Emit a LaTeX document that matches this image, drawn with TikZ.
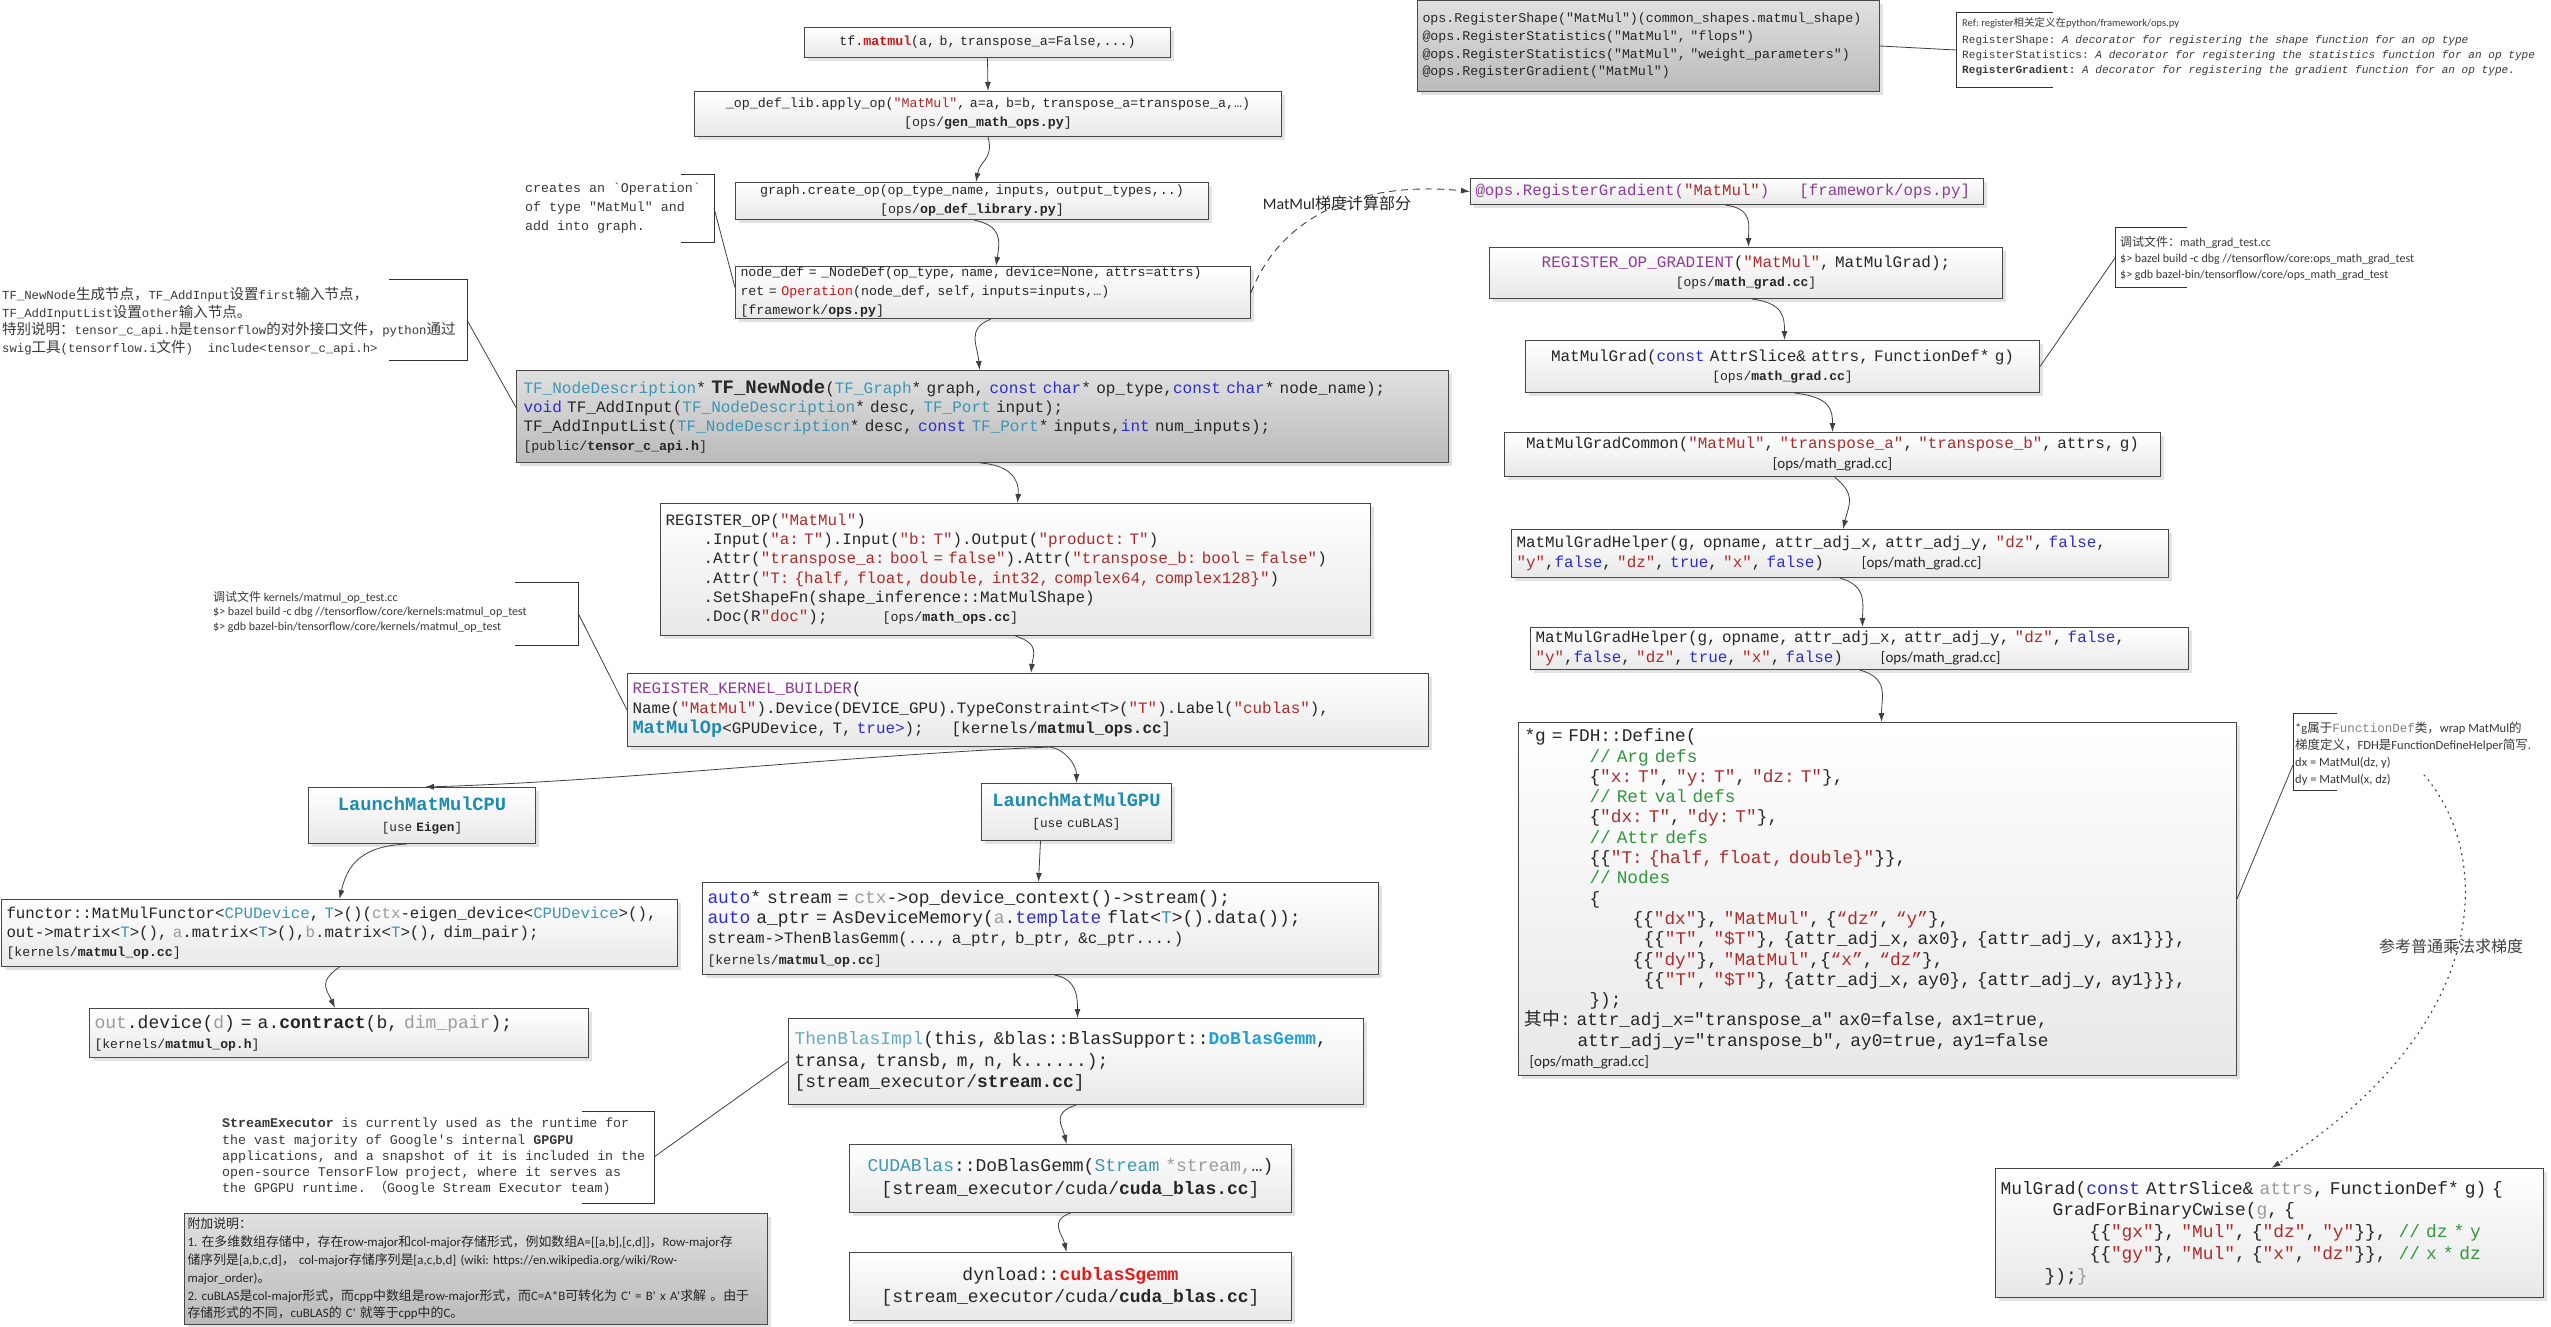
\documentclass[tikz,border=0pt]{standalone}
\usepackage{fontspec}
\setmonofont{Liberation Mono}
\newfontfamily\cbfont{Carlito}
\newfontfamily\zhfont{Noto Sans CJK SC}
\usetikzlibrary{arrows.meta,shadows}
\definecolor{strred}{RGB}{172,44,44}
\definecolor{kwblue}{RGB}{45,45,205}
\definecolor{tyteal}{RGB}{60,150,180}
\definecolor{tealb}{RGB}{30,140,175}
\definecolor{purp}{RGB}{140,60,150}
\definecolor{cmgreen}{RGB}{50,150,60}
\definecolor{grayt}{RGB}{155,155,155}
\definecolor{cyanb}{RGB}{30,160,215}
\definecolor{redc}{RGB}{225,30,30}
\definecolor{redb}{RGB}{200,25,25}
\newcommand\fsz[2]{\fontsize{#1}{#2}\selectfont}
\newcommand\fixsp{\fontdimen2\font=0.6\fontdimen6\font \fontdimen3\font=0pt \fontdimen4\font=0pt \fontdimen7\font=0pt\relax}
\newcommand\mfs[2]{\fontsize{#1}{#2}\selectfont\fixsp}
\newcommand\zhs[1]{{\zhfont #1}}
\newcommand\zhb[1]{{\zhfont\fontsize{14.5}{17.7}\selectfont #1}}
\newcommand\cStr[1]{\textcolor{strred}{#1}}
\newcommand\cKw[1]{\textcolor{kwblue}{#1}}
\newcommand\cTy[1]{\textcolor{tyteal}{#1}}
\newcommand\cPu[1]{\textcolor{purp}{#1}}
\newcommand\cCm[1]{\textcolor{cmgreen}{#1}}
\newcommand\cGr[1]{\textcolor{grayt}{#1}}
\tikzset{
 box/.style={draw=black!72, line width=1pt, top color=white, bottom color=black!9,
   drop shadow={shadow xshift=3pt, shadow yshift=-3pt, fill=black!22},
   anchor=north west, inner xsep=5pt, inner ysep=0pt, font=\ttfamily, text=black!85},
 gbox/.style={box, top color=black!12, bottom color=black!27},
 note/.style={anchor=north west, inner sep=0pt, align=left, text=black!78},
 arr/.style={draw=black!75, line width=0.8pt, -{Latex[length=9pt,width=6pt]}},
 conn/.style={draw=black!75, line width=0.8pt},
 brk/.style={draw=black!80, line width=0.9pt},
 dashline/.style={dash pattern=on 7pt off 5pt, line width=0.9pt},
 dotline/.style={dash pattern=on 1.3pt off 5pt, line cap=round, line width=1.2pt},
}
\begin{document}
\frenchspacing
\begin{tikzpicture}[x=1pt,y=-1pt]
\fill[white] (0,0) rectangle (2551,1326);
\useasboundingbox (0,0) rectangle (2551,1326);

% ---------------- top column ----------------
\node[box, text width=356pt, minimum height=30pt, align=center, font=\ttfamily\mfs{13.3}{16}] (tfmatmul) at (804,27)
 {tf.\textcolor{redb}{\bfseries matmul}(a, b, transpose\_a=False,...)};
\node[box, text width=577pt, minimum height=45pt, align=center, font=\ttfamily\mfs{13.3}{19}] (applyop) at (694,91)
 {\_op\_def\_lib.apply\_op(\cStr{"MatMul"}, a=a, b=b, transpose\_a=transpose\_a,…)\\ {[}ops/\textbf{gen\_math\_ops.py}]};
\node[box, text width=463pt, minimum height=37pt, align=center, font=\ttfamily\mfs{13.3}{19}] (createop) at (735,182)
 {graph.create\_op(op\_type\_name, inputs, output\_types,..)\\ {[}ops/\textbf{op\_def\_library.py}]};
\node[box, text width=505pt, minimum height=52pt, align=left, font=\ttfamily\mfs{13.3}{19}] (nodedef) at (735,266)
 {node\_def = \_NodeDef(op\_type, name, device=None, attrs=attrs)\\ ret = \textcolor{redb}{Operation}(node\_def, self, inputs=inputs,…)\\ {[}framework/\textbf{ops.py}]};

\node[note, font=\ttfamily\mfs{13.3}{19}] (opnote) at (525,183) {creates an `Operation`\\ of type "MatMul" and\\ add into graph.};
\draw[brk] (681,174) -- (714,174) -- (714,242) -- (681,242);
\coordinate (opb) at (714,208);

\node[gbox, text width=452pt, minimum height=91pt, align=left, font=\ttfamily\mfs{13.3}{17.7}] (regshape) at (1417,0)
 {ops.RegisterShape("MatMul")(common\_shapes.matmul\_shape)\\ @ops.RegisterStatistics("MatMul", "flops")\\ @ops.RegisterStatistics("MatMul", "weight\_parameters")\\ @ops.RegisterGradient("MatMul")};
\node[note, font=\ttfamily\mfs{11.1}{15}] (refnote) at (1962,17)
 {{\cbfont\fsz{10.5}{15}Ref: register\zhs{相关定义在}python/framework/ops.py}\\[2pt]
  RegisterShape: \textit{\fixsp A decorator for registering the shape function for an op type}\\
  RegisterStatistics: \textit{\fixsp A decorator for registering the statistics function for an op type}\\
  \textbf{RegisterGradient:} \textit{\fixsp A decorator for registering the gradient function for an op type.}};
\draw[brk] (2053,12) -- (1956,12) -- (1956,87) -- (2053,87);
\coordinate (refb) at (1956,50);

\node[note, font=\ttfamily\mfs{12.3}{17.7}] (nnnote) at (2,287)
 {TF\_NewNode\zhb{生成节点，}TF\_AddInput\zhb{设置}first\zhb{输入节点，}\\
  TF\_AddInputList\zhb{设置}other\zhb{输入节点。}\\
  \zhb{特别说明：}tensor\_c\_api.h\zhb{是}tensorflow\zhb{的对外接口文件，}python\zhb{通过}\\
  swig\zhb{工具}(tensorflow.i\zhb{文件})\ \ include<tensor\_c\_api.h>};
\draw[brk] (389,279) -- (467,279) -- (467,360) -- (389,360);
\coordinate (nnb) at (467,320);

\node[gbox, text width=918pt, minimum height=92pt, align=left, inner xsep=7pt, font=\ttfamily\mfs{16}{19.3}] (tfnewnode) at (516,370)
 {\cTy{TF\_NodeDescription}* {\mfs{19}{19.3}\bfseries TF\_NewNode}(\cTy{TF\_Graph}* graph, \cKw{const char}* op\_type,\cKw{const char}* node\_name);\\
  \cKw{void} TF\_AddInput(\cTy{TF\_NodeDescription}* desc, \cTy{TF\_Port} input);\\
  TF\_AddInputList(\cTy{TF\_NodeDescription}* desc, \cKw{const} \cTy{TF\_Port}* inputs,\cKw{int} num\_inputs);\\
  {\mfs{13.3}{19.3}[public/\textbf{tensor\_c\_api.h}]}};

\node[box, text width=700pt, minimum height=132pt, align=left, font=\ttfamily\mfs{15.9}{19.3}] (regop) at (660,503)
 {REGISTER\_OP(\cStr{"MatMul"})\\
  \hspace*{38pt}.Input(\cStr{"a: T"}).Input(\cStr{"b: T"}).Output(\cStr{"product: T"})\\
  \hspace*{38pt}.Attr(\cStr{"transpose\_a: bool = false"}).Attr(\cStr{"transpose\_b: bool = false"})\\
  \hspace*{38pt}.Attr(\cStr{"T: \{half, float, double, int32, complex64, complex128\}"})\\
  \hspace*{38pt}.SetShapeFn(shape\_inference::MatMulShape)\\
  \hspace*{38pt}.Doc(R\cStr{"doc"});\hspace{55pt}{\mfs{13.3}{19.3}[ops/\textbf{math\_ops.cc}]}};

\node[box, text width=791pt, minimum height=73pt, align=left, font=\ttfamily\mfs{15.9}{20}] (kb) at (627,673)
 {\cPu{REGISTER\_KERNEL\_BUILDER}(\\
  Name(\cStr{"MatMul"}).Device(DEVICE\_GPU).TypeConstraint<T>(\cStr{"T"}).Label(\cStr{"cublas"}),\\
  {\mfs{18.7}{20}\bfseries\color{tealb}MatMulOp}<GPUDevice, T, \cKw{true>});\hspace{28pt}[kernels/\textbf{matmul\_ops.cc}]};

\node[note, font=\cbfont\fsz{12}{14.5}] (kdnote) at (213,591)
 {\zhs{调试文件} kernels/matmul\_op\_test.cc\\
  \$> bazel build -c dbg //tensorflow/core/kernels:matmul\_op\_test\\
  \$> gdb bazel-bin/tensorflow/core/kernels/matmul\_op\_test};
\draw[brk] (515,582) -- (578,582) -- (578,645) -- (515,645);
\coordinate (kdb) at (578,613);

% ---------------- CPU branch ----------------
\node[box, text width=217pt, minimum height=56pt, align=center, font=\ttfamily\mfs{12.7}{21}] (cpu) at (308,787)
 {{\mfs{18.7}{21}\bfseries\color{tealb}LaunchMatMulCPU}\\ {[}use \textbf{Eigen}]};
\node[box, text width=666pt, minimum height=67pt, align=left, font=\ttfamily\mfs{15.8}{19}] (functor) at (1,899)
 {functor::MatMulFunctor<\cTy{CPUDevice}, \cTy{T}>()(\cGr{ctx}-eigen\_device<\cTy{CPUDevice}>(),\\
  out->matrix<\cTy{T}>(), \cGr{a}.matrix<\cTy{T}>(),\cGr{b}.matrix<\cTy{T}>(), dim\_pair);\\
  {\mfs{13.2}{19}[kernels/\textbf{matmul\_op.cc}]}};
\node[box, text width=489pt, minimum height=49pt, align=left, font=\ttfamily\mfs{18}{20}] (outdev) at (89,1008)
 {\cGr{out}.device(\cGr{d}) = a.\textbf{contract}(b, \cGr{dim\_pair});\\
  {\mfs{13.1}{20}[kernels/\textbf{matmul\_op.h}]}};

% ---------------- GPU branch ----------------
\node[box, text width=180pt, minimum height=57pt, align=center, font=\ttfamily\mfs{12.7}{21}] (gpu) at (981,783)
 {{\mfs{18.7}{21}\bfseries\color{tealb}LaunchMatMulGPU}\\ {[}use cuBLAS]};
\node[box, text width=666pt, minimum height=92pt, align=left, font=\ttfamily\mfs{17.9}{20.3}] (gpucode) at (702,882)
 {\cKw{auto}* stream = \cGr{ctx}->op\_device\_context()->stream();\\
  \cKw{auto} a\_ptr = AsDeviceMemory(\cGr{a}.\cKw{template} flat<\cTy{T}>().data());\\
  {\mfs{15.9}{20.3}stream->ThenBlasGemm(..., a\_ptr, b\_ptr, \&c\_ptr....)}\\
  {\mfs{13.2}{20.3}[kernels/\textbf{matmul\_op.cc}]}};
\node[box, text width=563pt, minimum height=86pt, align=left, inner xsep=6pt, font=\ttfamily\mfs{17.9}{21.5}] (thenblas) at (788,1018)
 {{\color{tyteal!80}ThenBlasImpl}(this, \&blas::BlasSupport::{\bfseries\color{cyanb}DoBlasGemm},\\
  transa, transb, m, n, k......);\\
  {[}stream\_executor/\textbf{stream.cc}]};
\node[box, text width=432pt, minimum height=68pt, align=center, font=\ttfamily\mfs{18}{23}] (cudablas) at (849,1144)
 {\cTy{CUDABlas}::DoBlasGemm(\cTy{Stream} \cGr{*stream,}…)\\ {[}stream\_executor/cuda/\textbf{cuda\_blas.cc}]};
\node[box, text width=432pt, minimum height=68pt, align=center, font=\ttfamily\mfs{18}{22}] (dynload) at (849,1252)
 {dynload::{\bfseries\color{redc}cublasSgemm}\\ {[}stream\_executor/cuda/\textbf{cuda\_blas.cc}]};

\node[note, font=\ttfamily\mfs{13.3}{16.2}] (senote) at (222,1118)
 {\textbf{StreamExecutor} is currently used as the runtime for\\
  the vast majority of Google's internal \textbf{GPGPU}\\
  applications, and a snapshot of it is included in the\\
  open-source TensorFlow project, where it serves as\\
  the GPGPU runtime. \zhs{（}Google Stream Executor team)};
\draw[brk] (582,1111) -- (654,1111) -- (654,1203) -- (582,1203);
\coordinate (seb) at (654,1157);

\node[gbox, text width=577pt, minimum height=111pt, align=left, inner xsep=3pt, font=\cbfont\fsz{12.9}{17.8}] (fujia) at (184,1213)
 {\zhs{附加说明：}\\
  1. \zhs{在多维数组存储中，存在}row-major\zhs{和}col-major\zhs{存储形式，例如数组}A=[[a,b],[c,d]]\zhs{，}Row-major\zhs{存}\\
  \zhs{储序列是}[a,b,c,d]\zhs{，} col-major\zhs{存储序列是}[a,c,b,d] (wiki: https://en.wikipedia.org/wiki/Row-\\
  major\_order)\zhs{。}\\
  2. cuBLAS\zhs{是}col-major\zhs{形式，而}cpp\zhs{中数组是}row-major\zhs{形式，而}C=A*B\zhs{可转化为} C\textquotesingle{} = B\textquotesingle{} x A\textquotesingle\zhs{求解 。由于}\\
  \zhs{存储形式的不同，}cuBLAS\zhs{的} C\textquotesingle{} \zhs{就等于}cpp\zhs{中的}C\zhs{。}};

% ---------------- right column ----------------
\node[box, text width=503pt, minimum height=26pt, align=left, font=\ttfamily\mfs{15.8}{19}] (rgrad) at (1470,178)
 {\mbox{\cPu{@ops.RegisterGradient(}\cStr{"MatMul"}\cPu{)}\hspace{30pt}\cPu{[framework/ops.py]}}};
\node[box, text width=503pt, minimum height=51pt, align=center, font=\ttfamily\mfs{16}{19}] (ropgrad) at (1489,247)
 {\cPu{REGISTER\_OP\_GRADIENT}(\cStr{"MatMul"}, MatMulGrad);\\ {\mfs{13}{19}[ops/\textbf{math\_grad.cc}]}};
\node[box, text width=504pt, minimum height=52pt, align=center, font=\ttfamily\mfs{16}{19}] (mmgrad) at (1525,340)
 {MatMulGrad(\cKw{const} AttrSlice\& attrs, FunctionDef* g)\\ {\mfs{13}{19}[ops/\textbf{math\_grad.cc}]}};
\node[note, font=\cbfont\fsz{12}{16}] (gdnote) at (2120,236)
 {\zhs{调试文件：}math\_grad\_test.cc\\
  \$> bazel build -c dbg //tensorflow/core:ops\_math\_grad\_test\\
  \$> gdb bazel-bin/tensorflow/core/ops\_math\_grad\_test};
\draw[brk] (2187,227) -- (2115,227) -- (2115,287) -- (2187,287);
\coordinate (gdb) at (2115,258);

\node[box, text width=646pt, minimum height=44pt, align=center, font=\ttfamily\mfs{15.9}{20}] (mmcommon) at (1504,432)
 {MatMulGradCommon(\cStr{"MatMul"}, \cStr{"transpose\_a"}, \cStr{"transpose\_b"}, attrs, g)\\ {\cbfont\fsz{15}{20}[ops/math\_grad.cc]}};
\node[box, text width=647pt, minimum height=48pt, align=left, font=\ttfamily\mfs{15.9}{20}] (helper1) at (1511,529)
 {MatMulGradHelper(g, opname, attr\_adj\_x, attr\_adj\_y, \cStr{"dz"}, \cKw{false},\\
  \cStr{"y"},\cKw{false}, \cStr{"dz"}, \cKw{true}, \cStr{"x"}, \cKw{false})\hspace{38pt}{\cbfont\fsz{15}{20}[ops/math\_grad.cc]}};
\node[box, text width=648pt, minimum height=42pt, align=left, font=\ttfamily\mfs{15.9}{20}] (helper2) at (1530,627)
 {MatMulGradHelper(g, opname, attr\_adj\_x, attr\_adj\_y, \cStr{"dz"}, \cKw{false},\\
  \cStr{"y"},\cKw{false}, \cStr{"dz"}, \cKw{true}, \cStr{"x"}, \cKw{false})\hspace{38pt}{\cbfont\fsz{15}{20}[ops/math\_grad.cc]}};

\node[box, text width=706pt, minimum height=353pt, align=left, inner xsep=6pt, font=\ttfamily\mfs{17.8}{20.3}] (fdh) at (1518,722)
 {*g = FDH::Define(\\
  \hspace*{65pt}\cCm{// Arg defs}\\
  \hspace*{65pt}\{\cStr{"x: T"}, \cStr{"y: T"}, \cStr{"dz: T"}\},\\
  \hspace*{65pt}\cCm{// Ret val defs}\\
  \hspace*{65pt}\{\cStr{"dx: T"}, \cStr{"dy: T"}\},\\
  \hspace*{65pt}\cCm{// Attr defs}\\
  \hspace*{65pt}\{\{\cStr{"T: \{half, float, double\}"}\}\},\\
  \hspace*{65pt}\cCm{// Nodes}\\
  \hspace*{65pt}\{\\
  \hspace*{108pt}\{\{\cStr{"dx"}\}, \cStr{"MatMul"}, \{\cStr{“dz”}, \cStr{“y”}\},\\
  \hspace*{119pt}\{\{\cStr{"T"}, \cStr{"\$T"}\}, \{attr\_adj\_x, ax0\}, \{attr\_adj\_y, ax1\}\}\},\\
  \hspace*{108pt}\{\{\cStr{"dy"}\}, \cStr{"MatMul"},\{\cStr{“x”}, \cStr{“dz”}\},\\
  \hspace*{119pt}\{\{\cStr{"T"}, \cStr{"\$T"}\}, \{attr\_adj\_x, ay0\}, \{attr\_adj\_y, ay1\}\}\},\\
  \hspace*{65pt}\});\\
  \zhs{其中}: attr\_adj\_x="transpose\_a" ax0=false, ax1=true,\\
  \hspace*{53pt}attr\_adj\_y="transpose\_b", ay0=true, ay1=false\\
  \hspace*{5pt}{\cbfont\fsz{15}{20.3}[ops/math\_grad.cc]}};

\node[note, font=\cbfont\fsz{12.5}{17}] (gnote) at (2295,722)
 {*g\zhs{属于}{\ttfamily\color{black!50}FunctionDef}\zhs{类，}wrap MatMul\zhs{的}\\
  \zhs{梯度定义，}FDH\zhs{是}FunctionDefineHelper\zhs{简写}.\\
  dx = MatMul(dz, y)\\
  dy = MatMul(x, dz)};
\draw[brk] (2337,713) -- (2293,713) -- (2293,790) -- (2337,790);
\coordinate (gnb) at (2293,765);

\node[box, text width=538pt, minimum height=129pt, align=left, font=\ttfamily\mfs{17.9}{21.7}] (mulgrad) at (1995,1168)
 {MulGrad(\cKw{const} AttrSlice\& \cGr{attrs}, FunctionDef* g) \{\\
  \hspace*{52pt}GradForBinaryCwise(\cGr{g}, \{\\
  \hspace*{89pt}\{\{\cStr{"gx"}\}, \cStr{"Mul"}, \{\cStr{"dz"}, \cStr{"y"}\}\},\ \ \cCm{// dz * y}\\
  \hspace*{89pt}\{\{\cStr{"gy"}\}, \cStr{"Mul"}, \{\cStr{"x"}, \cStr{"dz"}\}\},\ \ \cCm{// x * dz}\\
  \hspace*{44pt}\});\cGr{\}}};

\node[font=\cbfont\fsz{16}{18}, text=black!85] (lbl1) at (1337,203) {MatMul\zhs{梯度计算部分}};
\node[font=\zhfont\fsz{16}{18}, text=black!75] (lbl2) at (2451,946) {参考普通乘法求梯度};
\coordinate (dstart) at (2424,775);

% ---------------- arrows ----------------
\draw[arr] (tfmatmul.south) -- (applyop.north);
\draw[arr] (applyop.south) .. controls +(6,22) and +(4,-22) .. ([xshift=4pt]createop.north);
\draw[arr] ([xshift=2pt]createop.south) .. controls +(28,6) and +(4,-26) .. ([xshift=3pt]nodedef.north);
\draw[arr] ([xshift=-2pt]nodedef.south) .. controls +(-25,10) and +(-2,-25) .. ([xshift=-3pt]tfnewnode.north);
\draw[arr] ([xshift=-2pt]tfnewnode.south) .. controls +(28,2) and +(2,-25) .. ([xshift=2pt]regop.north);
\draw[arr] (regop.south) .. controls +(25,8) and +(2,-18) .. ([xshift=3pt]kb.north);
\draw[arr] ([xshift=22pt]kb.south) .. controls +(-200,8) and +(200,-6) .. ([xshift=3pt]cpu.north);
\draw[arr] ([xshift=22pt]kb.south) .. controls +(15,2) and +(0,-18) .. (gpu.north);
\draw[arr] ([xshift=-15pt]cpu.south) .. controls +(-45,2) and +(8,-35) .. (functor.north);
\draw[arr] (functor.south) .. controls +(-22,15) and +(-8,-18) .. ([xshift=-4pt]outdev.north);
\draw[arr] ([xshift=-36pt]gpu.south) -- ([xshift=-2pt]gpucode.north);
\draw[arr] ([xshift=14pt]gpucode.south) .. controls +(22,4) and +(0,-22) .. ([xshift=1.5pt]thenblas.north);
\draw[arr] (thenblas.south) .. controls +(-25,8) and +(-4,-18) .. ([xshift=-4pt]cudablas.north);
\draw[arr] (cudablas.south) .. controls +(-22,8) and +(-4,-18) .. ([xshift=-4pt]dynload.north);

\draw[arr] ([xshift=-1.5pt]rgrad.south) .. controls +(28,4) and +(0,-22) .. ([xshift=2.5pt]ropgrad.north);
\draw[arr] ([xshift=6pt]ropgrad.south) .. controls +(32,4) and +(0,-22) .. ([xshift=2pt]mmgrad.north);
\draw[arr] ([xshift=12pt]mmgrad.south) .. controls +(36,4) and +(0,-22) .. (mmcommon.north);
\draw[arr] ([xshift=2pt]mmcommon.south) .. controls +(22,18) and +(6,-25) .. ([xshift=3pt]helper1.north);
\draw[arr] (helper1.south) .. controls +(28,8) and +(0,-22) .. ([xshift=3pt]helper2.north);
\draw[arr] (helper2.south) .. controls +(30,8) and +(0,-25) .. ([xshift=4pt]fdh.north);

\draw[arr, dashline] (nodedef.east) .. controls +(30,-77) and +(-110,-11) .. (rgrad.west);
\draw[arr, dotline] (dstart) .. controls (2490,850) and (2500,1020) .. ([xshift=2pt]mulgrad.north);

% ---------------- note connectors ----------------
\draw[conn] (opb) -- ([yshift=5pt]nodedef.west);
\draw[conn] (nnb) -- ([yshift=9pt]tfnewnode.west);
\draw[conn] (kdb) -- (kb.west);
\draw[conn] (seb) -- (thenblas.west);
\draw[conn] (regshape.east) -- (refb);
\draw[conn] (mmgrad.east) -- (gdb);
\draw[conn] (fdh.east) -- (gnb);
\end{tikzpicture}
\end{document}
